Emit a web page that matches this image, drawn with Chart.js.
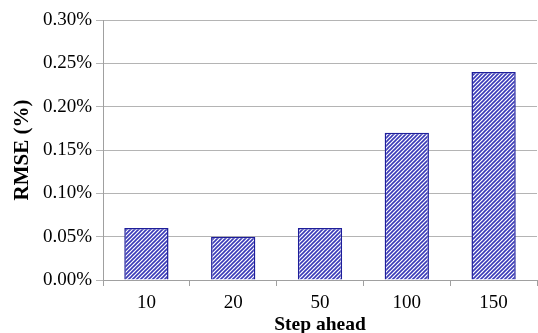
<!DOCTYPE html>
<html>
<head>
<meta charset="utf-8">
<script src="https://cdn.jsdelivr.net/npm/chart.js@4"></script>
<style>
  html, body { margin: 0; padding: 0; background: #fff; }
  #wrap { width: 538px; height: 333px; }
</style>
</head>
<body>
<div id="wrap"><canvas id="c" width="538" height="333"></canvas></div>
<script>
// Step-ahead horizons and RMSE in percent
const steps = ['10', '20', '50', '100', '150'];
const rmsePercent = [0.06, 0.05, 0.06, 0.17, 0.24];
const yTicks = [0, 0.05, 0.10, 0.15, 0.20, 0.25, 0.30];

// Diagonal hatch fill
function hatch() {
  const p = document.createElement('canvas');
  p.width = 4; p.height = 4;
  const g = p.getContext('2d');
  g.fillStyle = '#ffffff';
  g.fillRect(0, 0, 4, 4);
  g.strokeStyle = '#3a3ab8';
  g.lineWidth = 1.6;
  g.beginPath();
  g.moveTo(-1, 5); g.lineTo(5, -1);
  g.moveTo(-1, 1); g.lineTo(1, -1);
  g.moveTo(3, 5); g.lineTo(5, 3);
  g.stroke();
  return document.getElementById('c').getContext('2d').createPattern(p, 'repeat');
}

const serif = "'Liberation Serif', 'Times New Roman', serif";

new Chart(document.getElementById('c'), {
  type: 'bar',
  data: {
    labels: steps,
    datasets: [{
      data: rmsePercent,
      backgroundColor: hatch(),
      borderColor: '#1e1e9a',
      borderWidth: 1.5,
      categoryPercentage: 1.0,
      barPercentage: 0.51
    }]
  },
  options: {
    responsive: false,
    animation: false,
    layout: { padding: { top: 20, right: 1, left: 0, bottom: 0 } },
    plugins: { legend: { display: false }, tooltip: { enabled: false } },
    scales: {
      x: {
        afterFit: (axis) => { axis.height = 53; },
        grid: { display: true, drawOnChartArea: false, offset: true, color: '#a0a0a0', tickLength: 6 },
        border: { display: true, color: '#a0a0a0' },
        ticks: { color: '#000', font: { family: serif, size: 19 }, padding: 6 },
        title: { display: true, text: 'Step ahead', color: '#000', font: { family: serif, size: 19.5, weight: 'bold', lineHeight: 1.0 }, padding: { top: 0, bottom: -2 } }
      },
      y: {
        min: 0, max: 0.30,
        afterFit: (axis) => { axis.width = 103; },
        afterBuildTicks: (axis) => { axis.ticks = yTicks.map(v => ({ value: v })); },
        grid: { color: '#b4b4b4', tickLength: 7 },
        border: { display: true, color: '#a0a0a0' },
        ticks: {
          color: '#000', font: { family: serif, size: 19 }, padding: 4,
          callback: (v) => Number(v).toFixed(2) + '%'
        },
        title: { display: true, text: 'RMSE (%)', color: '#000', font: { family: serif, size: 21, weight: 'bold' }, padding: { top: 10, bottom: 0 } }
      }
    }
  }
});
</script>
</body>
</html>
